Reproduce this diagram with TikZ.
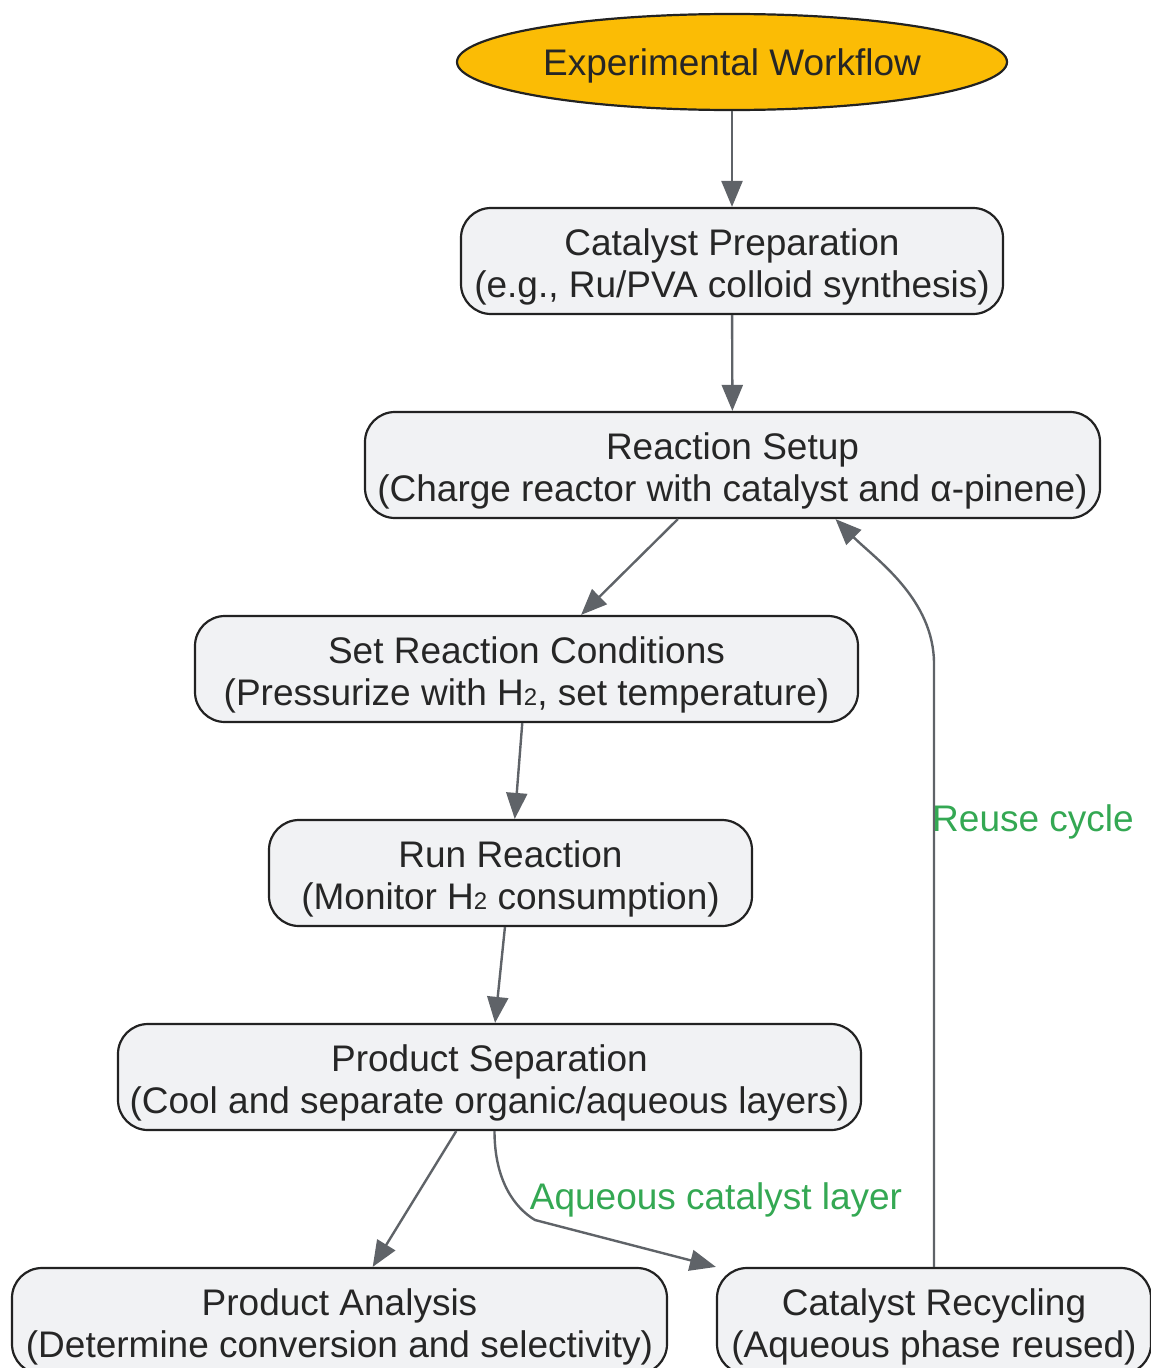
\documentclass[tikz,border=0pt]{standalone}
\usepackage{fontspec}
\setmainfont{Liberation Sans}
\usetikzlibrary{arrows.meta,shapes.geometric,calc}
\definecolor{boxfill}{HTML}{F1F2F4}
\definecolor{boxline}{HTML}{222222}
\definecolor{edgecol}{HTML}{5F6368}
\definecolor{startfill}{HTML}{FBBC05}
\definecolor{lblgreen}{HTML}{34A853}
\definecolor{txtcol}{HTML}{262626}
\newcommand{\subtwo}{{\fontsize{24}{24}\selectfont 2}}
\tikzset{
  stepbox/.style={draw=boxline, line width=2.2pt, fill=boxfill, rounded corners=30pt,
    minimum height=106pt, inner sep=0pt},
  steptext/.style={align=center, text=txtcol, inner sep=0pt,
    font=\fontsize{37}{42}\selectfont},
  startnode/.style={ellipse, draw=boxline, line width=2.2pt, fill=startfill,
    minimum width=550pt, minimum height=96pt, inner sep=0pt},
  flow/.style={draw=edgecol, line width=2.4pt, -{Triangle[length=26pt,width=21pt]}},
  elabel/.style={text=lblgreen, font=\fontsize{37}{42}\selectfont, inner sep=0pt}
}
\begin{document}
\begin{tikzpicture}[x=1pt,y=-1pt]
\useasboundingbox (0,0) rectangle (1151,1368);
\node[startnode] (start) at (732,62) {};
\node[steptext] (starttxt) at ([yshift=-4pt]start) {Experimental Workflow};
\node[stepbox, minimum width=542pt] (prep) at (732,261) {};
\node[steptext] (preptxt) at ([yshift=-6pt]prep) {Catalyst Preparation\\(e.g., Ru/PVA colloid synthesis)};
\node[stepbox, minimum width=735pt] (setup) at (732.5,465) {};
\node[steptext] (setuptxt) at ([yshift=-6pt]setup) {Reaction Setup\\(Charge reactor with catalyst and α-pinene)};
\node[stepbox, minimum width=663pt] (cond) at (526.5,669) {};
\node[steptext] (condtxt) at ([yshift=-6pt]cond) {Set Reaction Conditions\\(Pressurize with H\subtwo, set temperature)};
\node[stepbox, minimum width=483pt] (run) at (510.5,873) {};
\node[steptext] (runtxt) at ([yshift=-6pt]run) {Run Reaction\\(Monitor H\subtwo{} consumption)};
\node[stepbox, minimum width=743pt] (sep) at (489.5,1077) {};
\node[steptext] (septxt) at ([yshift=-6pt]sep) {Product Separation\\(Cool and separate organic/aqueous layers)};
\node[stepbox, minimum width=655pt] (ana) at (339.5,1321) {};
\node[steptext] (anatxt) at ([yshift=-6pt]ana) {Product Analysis\\(Determine conversion and selectivity)};
\node[stepbox, minimum width=434pt] (rec) at (934,1321) {};
\node[steptext] (rectxt) at ([yshift=-6pt]rec) {Catalyst Recycling\\(Aqueous phase reused)};

\draw[flow] (start) -- (prep);
\draw[flow] (prep) -- (setup);
\draw[flow] (setup) -- (cond);
\draw[flow] (cond) -- (run);
\draw[flow] (run) -- (sep);
\draw[flow] (sep) -- (ana);

\coordinate (sepout) at ([xshift=5pt]sep.south);
\coordinate (bend1) at (535,1220);
\draw[flow] (sepout) .. controls ([yshift=-50pt]sepout) and ([xshift=-20pt,yshift=12pt]bend1) .. (bend1) -- (rec.north west);
\node[elabel] (lbl1) at (716,1200) {Aqueous catalyst layer};

\coordinate (setin) at ([xshift=103pt]setup.south);
\coordinate (up1) at ($(rec.north)+(0,-603)$);
\draw[flow] (rec.north) -- (up1) .. controls ([yshift=65pt]up1) and ([xshift=40pt,yshift=-40pt]setin) .. (setin);
\node[elabel] (lbl2) at (1033,822) {Reuse cycle};
\end{tikzpicture}
\end{document}
